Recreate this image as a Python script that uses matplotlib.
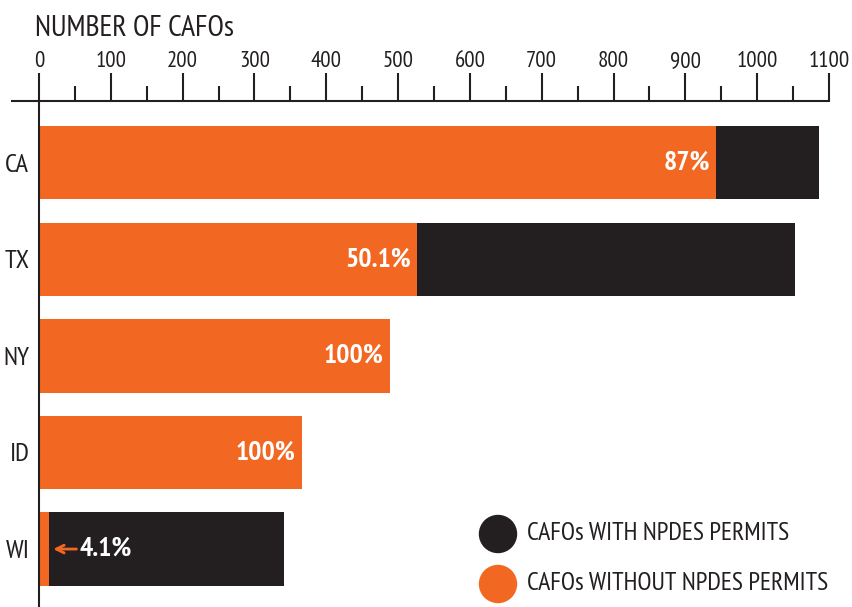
import matplotlib.pyplot as plt
from matplotlib.patches import Ellipse
from matplotlib.ticker import MultipleLocator

# data
states = ["CA", "TX", "NY", "ID", "WI"]
total = [1086, 1053, 489, 366, 341]
without_permit = [943, 527, 489, 366, 14]
pct_labels = ["87%", "50.1%", "100%", "100%", "4.1%"]

ORANGE = "#F26822"
BLACK = "#231F20"

plt.rcParams['font.family'] = ['PT Sans Narrow', 'DejaVu Sans']

fig = plt.figure(figsize=(8.52, 6.07), dpi=100)
ax = fig.add_axes([39 / 852, 0, 790 / 852, 1 - 101 / 607])

y = list(range(len(states)))
ax.barh(y, total, height=0.76, color=BLACK)
ax.barh(y, without_permit, height=0.76, color=ORANGE)

ax.set_xlim(0, 1100)
ax.set_ylim(4.6, -0.64)

ax.xaxis.set_major_locator(MultipleLocator(100))
ax.xaxis.set_minor_locator(MultipleLocator(50))
ax.xaxis.tick_top()
ax.tick_params(axis='x', which='major', length=20, width=1.5, pad=1,
               labelsize=16.5, color=BLACK, labelcolor=BLACK)
ax.tick_params(axis='x', which='minor', length=11, width=1.5, color=BLACK)

ax.set_yticks(y)
ax.set_yticklabels(states)
ax.tick_params(axis='y', length=0, pad=7, labelsize=19, labelcolor=BLACK)

for s in ['right', 'bottom']:
    ax.spines[s].set_visible(False)
for s in ['top', 'left']:
    ax.spines[s].set_linewidth(1.5)
    ax.spines[s].set_color(BLACK)
# axis line runs a little past zero on the left
ax.plot([-0.035, 0], [1, 1], transform=ax.transAxes, color=BLACK,
        lw=1.5, clip_on=False, solid_capstyle='butt')

# percent labels
for i, (w, lab) in enumerate(zip(without_permit, pct_labels)):
    if w > 100:
        ax.text(w - 9, i, lab, ha='right', va='center', color='white',
                fontsize=20, fontweight='bold')
    else:
        ax.annotate('', xy=(w + 2, i), xytext=(w + 42, i),
                    arrowprops=dict(arrowstyle='->', color=ORANGE, lw=2,
                                    mutation_scale=14))
        ax.text(w + 43, i, lab, ha='left', va='center', color='white',
                fontsize=20, fontweight='bold')

fig.text(35 / 852, 1 - 36 / 607, "NUMBER OF CAFOs", fontsize=21.5,
         color=BLACK, va='baseline', ha='left')

# legend
legend = [("CAFOs WITH NPDES PERMITS", BLACK, 534),
          ("CAFOs WITHOUT NPDES PERMITS", ORANGE, 584)]
for lab, col, py in legend:
    fig.patches.append(Ellipse((498 / 852, 1 - py / 607), 37 / 852, 37 / 607,
                               transform=fig.transFigure, color=col))
    fig.text(527 / 852, 1 - py / 607, lab, fontsize=18.5, color=BLACK,
             va='center', ha='left')

fig.savefig("out.png", dpi=100)
